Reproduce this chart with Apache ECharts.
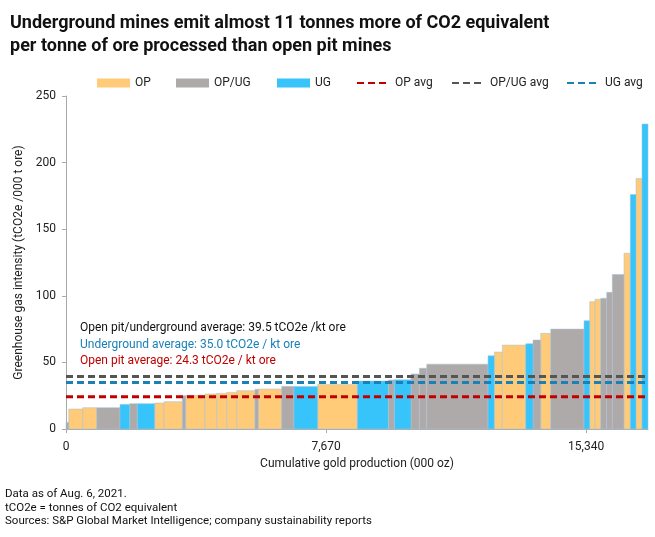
<!DOCTYPE html>
<html>
<head>
<meta charset="utf-8">
<script src="https://cdn.jsdelivr.net/npm/echarts@6/dist/echarts.min.js"></script>
<style>html,body{margin:0;padding:0;background:#fff}#c{width:655px;height:537px}</style>
</head>
<body>
<div id="c"></div>
<script>
// Gold production of each mine (000 oz), sorted by intensity
const production = [80,413,413,687,286,224,513,274,540,100,569,345,295,295,540,97,690,363,699,1168,915,177,493,245,218,1808,186,236,690,215,227,295,982,168,156,168,177,165,345,186,168,177,177];
// GHG intensity (tCO2e / 000 t ore)
const intensity = [5,15,16,16,18.5,19,19,19.5,20.5,25,25.3,26.3,26.8,27.5,28.8,29.8,30,32,32,33.5,36,36.8,37,41.3,45.6,48.7,55,57.8,63,64,66.8,71.8,75,81.3,95.6,97.4,98.1,102.6,116,132,176,188,229];
// Mine type
const mineType = ['OP/UG','OP','OP','OP/UG','UG','OP/UG','UG','OP','OP','OP/UG','OP','OP','OP','OP','OP','OP/UG','OP','OP/UG','UG','OP','UG','OP/UG','UG','OP/UG','OP/UG','OP/UG','UG','OP','OP','UG','OP/UG','OP','OP/UG','UG','OP','OP','OP/UG','OP/UG','OP/UG','OP','UG','OP','UG'];
const types = ['OP','OP/UG','UG'];
const typeColors = {'OP':'#FFCB78','OP/UG':'#AEAAA9','UG':'#36C4FB'};
const averages = [
  {name:'OP avg', value:24.3, color:'#C00000'},
  {name:'OP/UG avg', value:39.5, color:'#555555'},
  {name:'UG avg', value:35.0, color:'#1A80B6'}
];
const xTicks = [0, 7670, 15340];
const legendNames = ['OP','OP/UG','UG','OP avg','OP/UG avg','UG avg'];

let cum = 0;
const rows = production.map((p,i)=>{const r=[cum, cum+p, intensity[i], mineType[i]]; cum+=p; return r;});
const total = cum;

const chart = echarts.init(document.getElementById('c'));
const font = 'Roboto';

const barSeries = types.map(t=>({
  name:t, type:'custom',
  itemStyle:{color:typeColors[t]},
  encode:{x:[0,1], y:2},
  data: rows.filter(r=>r[3]===t).map(r=>[r[0],r[1],r[2]]),
  renderItem:(params, api)=>{
    const p0 = api.coord([api.value(0), api.value(2)]);
    const p1 = api.coord([api.value(1), 0]);
    return {type:'rect', shape:{x:p0[0], y:p0[1], width:p1[0]-p0[0], height:p1[1]-p0[1]},
      style:{fill:typeColors[t], stroke:'rgba(170,195,215,0.9)', lineWidth:0.6}};
  },
  z:2
}));

const lineSeries = averages.map(a=>({
  name:a.name, type:'line', symbol:'none', silent:true,
  data:[[0,a.value],[total,a.value]],
  lineStyle:{color:a.color, width:3, type:[7,4]},
  itemStyle:{color:a.color},
  z:5
}));

const legendLeft = [92, 171, 272, 351, 446, 561];
const legends = legendNames.map((n,i)=>({
  top:72, left:legendLeft[i], itemWidth:33, itemHeight:9, itemGap:0,
  textStyle:{fontFamily:font, fontSize:12, color:'#222'},
  selectedMode:false,
  data:[i<3 ? {name:n, icon:'rect'} : {name:n, itemStyle:{opacity:0}}]
}));

chart.setOption({
  animation:false,
  textStyle:{fontFamily:font},
  title:{
    text:'Underground mines emit almost 11 tonnes more of CO2 equivalent\nper tonne of ore processed than open pit mines',
    left:5, top:7,
    textStyle:{fontFamily:font, fontSize:18, fontWeight:'bold', color:'#111', lineHeight:23}
  },
  legend:legends,
  grid:{left:66, right:7, top:96, bottom:108},
  xAxis:{
    type:'value', min:0, max:total, interval:7670,
    name:'Cumulative gold production (000 oz)', nameLocation:'middle', nameGap:29,
    nameTextStyle:{fontFamily:font, fontSize:12, color:'#222'},
    axisLine:{lineStyle:{color:'#aaa'}},
    axisTick:{show:true, customValues:xTicks, length:4, lineStyle:{color:'#aaa'}},
    axisLabel:{customValues:xTicks, fontFamily:font, fontSize:12, color:'#222', margin:12,
      formatter:v=>v.toLocaleString('en-US')},
    splitLine:{show:false}
  },
  yAxis:{
    type:'value', min:0, max:250, interval:50,
    name:'Greenhouse gas intensity (tCO2e /000 t ore)', nameLocation:'middle', nameGap:38,
    nameTextStyle:{fontFamily:font, fontSize:12, color:'#222'},
    axisLine:{show:true, lineStyle:{color:'#aaa'}},
    axisTick:{show:true, length:4, lineStyle:{color:'#aaa'}},
    axisLabel:{fontFamily:font, fontSize:12, color:'#222', margin:10},
    splitLine:{show:false}
  },
  graphic:[
    {type:'text', left:80, top:322, style:{text:'Open pit/underground average: 39.5 tCO2e /kt ore', fill:'#111', font:'12px Roboto'}},
    {type:'text', left:80, top:339, style:{text:'Underground average: 35.0 tCO2e / kt ore', fill:'#1A80B6', font:'12px Roboto'}},
    {type:'text', left:80, top:355, style:{text:'Open pit average: 24.3 tCO2e / kt ore', fill:'#C00000', font:'12px Roboto'}},
    {type:'text', left:5, top:488, style:{text:'Data as of Aug. 6, 2021.', fill:'#111', font:'11.5px Roboto'}},
    {type:'text', left:5, top:502, style:{text:'tCO2e = tonnes of CO2 equivalent', fill:'#111', font:'11.5px Roboto'}},
    {type:'text', left:5, top:515, style:{text:'Sources: S&P Global Market Intelligence; company sustainability reports', fill:'#111', font:'11.5px Roboto'}}
  ],
  series:[...barSeries, ...lineSeries]
});
</script>
</body>
</html>
